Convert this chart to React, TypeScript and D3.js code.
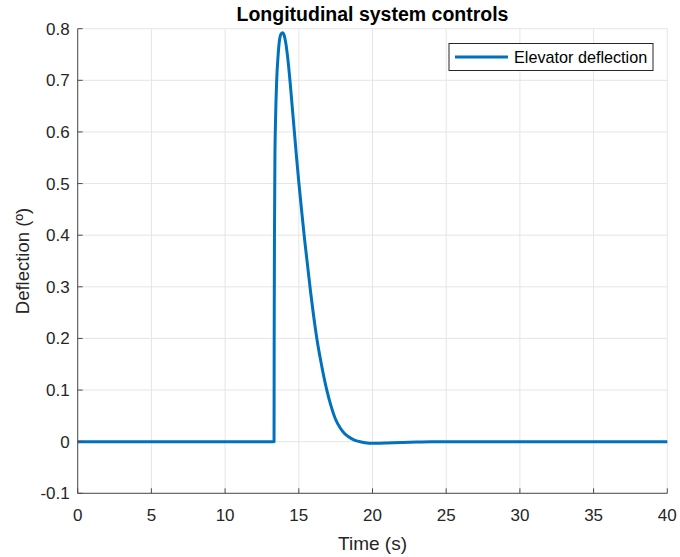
import React from "react";
import * as d3 from "d3";

const timeS = [0, 13.32, 13.33, 13.35, 13.38, 13.42, 13.5, 13.6, 13.7, 13.8, 13.9, 14.0, 14.1, 14.2, 14.3, 14.4, 14.55, 14.7, 14.85, 15.0, 15.2, 15.4, 15.6, 15.8, 16.0, 16.25, 16.5, 16.9, 17.2, 17.5, 17.8, 18.1, 18.4, 18.7, 19.0, 19.5, 20.0, 20.5, 21.0, 22.0, 23.0, 24.0, 25.0, 40];
const deflection = [0, 0, 0.2, 0.4, 0.55, 0.62, 0.7, 0.75, 0.78, 0.79, 0.792, 0.788, 0.775, 0.755, 0.73, 0.7, 0.65, 0.6, 0.55, 0.503, 0.445, 0.39, 0.34, 0.29, 0.245, 0.195, 0.155, 0.1, 0.068, 0.043, 0.027, 0.016, 0.009, 0.004, 0.001, -0.002, -0.003, -0.003, -0.0025, -0.0015, -0.0008, -0.0003, 0, 0];
const xTicks = [0, 5, 10, 15, 20, 25, 30, 35, 40];
const yTicks = [-0.1, 0, 0.1, 0.2, 0.3, 0.4, 0.5, 0.6, 0.7, 0.8];
const title = "Longitudinal system controls";
const xLabel = "Time (s)";
const yLabel = "Deflection (º)";
const legendLabel = "Elevator deflection";

export default function App() {
  const W = 680, H = 557;
  const left = 77.7, right = 667.3, top = 28.7, bottom = 493.3;
  const x = d3.scaleLinear().domain([0, 40]).range([left, right]);
  const y = d3.scaleLinear().domain([-0.1, 0.8]).range([bottom, top]);
  const pts = timeS.map((t, i) => [t, deflection[i]] as [number, number]);
  const line = d3.line<[number, number]>().x(d => x(d[0])).y(d => y(d[1])).curve(d3.curveMonotoneX);
  const font = "'Liberation Sans', Arial, Helvetica, sans-serif";
  const axisColor = "#4d4d4d";
  const textColor = "#262626";
  const grid = "#e5e5e5";
  const fmt = (v: number) => (Math.round(v * 10) / 10).toString();
  return (
    <svg width={W} height={H} style={{ position: "absolute", left: 0, top: 0, background: "#fff" }} fontFamily={font}>
      <rect x={0} y={0} width={W} height={H} fill="#fff" />
      {xTicks.map(t => (
        <line key={"gx" + t} x1={x(t)} x2={x(t)} y1={top} y2={bottom} stroke={grid} strokeWidth={1} />
      ))}
      {yTicks.map(t => (
        <line key={"gy" + t} x1={left} x2={right} y1={y(t)} y2={y(t)} stroke={grid} strokeWidth={1} />
      ))}
      <path d={line(pts) || ""} fill="none" stroke="#0072BD" strokeWidth={3} strokeLinejoin="round" />
      <line x1={left} x2={left} y1={top} y2={bottom} stroke={axisColor} strokeWidth={1} />
      <line x1={left} x2={right} y1={bottom} y2={bottom} stroke={axisColor} strokeWidth={1} />
      {xTicks.map(t => (
        <g key={"tx" + t}>
          <line x1={x(t)} x2={x(t)} y1={bottom} y2={bottom - 5} stroke={axisColor} strokeWidth={1} />
          <text x={x(t)} y={bottom + 28} textAnchor="middle" fontSize={17} fill={textColor}>{t}</text>
        </g>
      ))}
      {yTicks.map(t => (
        <g key={"ty" + t}>
          <line x1={left} x2={left + 5} y1={y(t)} y2={y(t)} stroke={axisColor} strokeWidth={1} />
          <text x={left - 8} y={y(t) + 6} textAnchor="end" fontSize={17} fill={textColor}>{fmt(t)}</text>
        </g>
      ))}
      <text x={(left + right) / 2} y={21} textAnchor="middle" fontSize={19.5} fontWeight="bold" fill="#000">{title}</text>
      <text x={(left + right) / 2} y={550} textAnchor="middle" fontSize={19} fill={textColor}>{xLabel}</text>
      <text transform={`translate(29, ${(top + bottom) / 2}) rotate(-90)`} textAnchor="middle" fontSize={18.5} fill={textColor}>{yLabel}</text>
      <rect x={449} y={43.5} width={204} height={27} fill="#fff" stroke={textColor} strokeWidth={1} />
      <line x1={455} x2={508} y1={57} y2={57} stroke="#0072BD" strokeWidth={3} />
      <text x={514} y={63} fontSize={16.2} fill="#000">{legendLabel}</text>
    </svg>
  );
}
